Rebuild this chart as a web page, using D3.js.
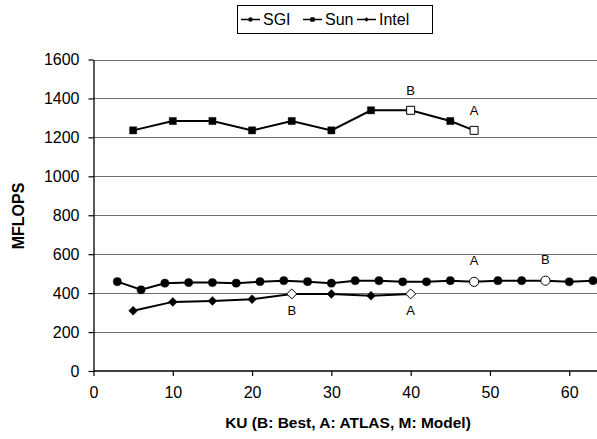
<!DOCTYPE html>
<html>
<head>
<meta charset="utf-8">
<script src="https://cdn.jsdelivr.net/npm/d3@7"></script>
<style>
  body { margin: 0; background: #fff; }
  svg { font-family: "Liberation Sans", Arial, sans-serif; }
</style>
</head>
<body>
<div id="chart"></div>
<script>
// KU values and MFLOPS for each machine
const sgiKU = [3, 6, 9, 12, 15, 18, 21, 24, 27, 30, 33, 36, 39, 42, 45, 48, 51, 54, 57, 60, 63];
const sgiMflops = [459, 417, 451, 454, 454, 451, 459, 464, 459, 451, 464, 464, 458, 458, 464, 458, 464, 464, 464, 458, 464];
const sunKU = [5, 10, 15, 20, 25, 30, 35, 40, 45, 48];
const sunMflops = [1236, 1284, 1284, 1236, 1284, 1236, 1339, 1339, 1284, 1236];
const intelKU = [5, 10, 15, 20, 25, 30, 35, 40];
const intelMflops = [309, 355, 360, 369, 396, 396, 387, 396];

// special points (B: Best, A: ATLAS) - drawn hollow with a letter
const sgiTags = [{ ku: 48, tag: 'A' }, { ku: 57, tag: 'B' }];
const sunTags = [{ ku: 40, tag: 'B' }, { ku: 48, tag: 'A' }];
const intelTags = [{ ku: 25, tag: 'B' }, { ku: 40, tag: 'A' }];

const yTicks = [0, 200, 400, 600, 800, 1000, 1200, 1400, 1600];
const xTicks = [0, 10, 20, 30, 40, 50, 60];

const width = 597;
const height = 439;

const svg = d3.select('#chart').append('svg')
    .attr('width', width)
    .attr('height', height);

const x = d3.scaleLinear().domain([0, 63.5]).range([93.5, 597]);
const y = d3.scaleLinear().domain([0, 1600]).range([371, 59.5]);

// gridlines
svg.append('g')
    .selectAll('line')
    .data(yTicks.filter(d => d > 0))
    .enter().append('line')
    .attr('x1', x(0)).attr('x2', width)
    .attr('y1', d => Math.round(y(d)) + 0.5).attr('y2', d => Math.round(y(d)) + 0.5)
    .style('stroke', '#6e6e6e')
    .style('stroke-width', 1.2);

// axes
const yAxis = svg.append('g')
    .attr('transform', `translate(${x(0)},0)`)
    .call(d3.axisLeft(y).tickValues(yTicks).tickFormat(d3.format('d'))
        .tickSize(5).tickPadding(9).tickSizeOuter(0));
const xAxis = svg.append('g')
    .attr('transform', `translate(0,${y(0)})`)
    .call(d3.axisBottom(x).tickValues(xTicks).tickSize(5).tickPadding(11).tickSizeOuter(0));

[yAxis, xAxis].forEach(a => {
    a.select('.domain').style('stroke', '#000').style('stroke-width', 1.3);
    a.selectAll('.tick line').style('stroke', '#000').style('stroke-width', 1.2);
    a.selectAll('.tick text')
        .style('font-size', '16px')
        .style('fill', '#000')
        .style('font-family', '"Liberation Sans", Arial, sans-serif');
});
// x axis line runs to the right edge
xAxis.select('.domain').attr('d', `M${x(0)},0H${width}`);

// axis titles
svg.append('text')
    .attr('transform', `translate(24,216) rotate(-90)`)
    .attr('text-anchor', 'middle')
    .style('font-size', '16px')
    .style('font-weight', 'bold')
    .text('MFLOPS');

svg.append('text')
    .attr('x', 348).attr('y', 428)
    .attr('text-anchor', 'middle')
    .style('font-size', '15.5px')
    .style('font-weight', 'bold')
    .text('KU (B: Best, A: ATLAS, M: Model)');

const line = d3.line().x(d => x(d.ku)).y(d => y(d.v));

// marker path for a shape; r is the half-width
function marker(shape, r) {
    if (shape === 'circle') return d3.symbol().type(d3.symbolCircle).size(Math.PI * r * r)();
    if (shape === 'square') return `M${-r},${-r}H${r}V${r}H${-r}Z`;
    return `M0,${-r}L${r},0L0,${r}L${-r},0Z`;
}

function drawSeries(kus, vals, tags, shape, labelDy) {
    const data = kus.map((k, i) => ({ ku: k, v: vals[i] }));
    svg.append('path')
        .datum(data)
        .attr('d', line)
        .style('fill', 'none')
        .style('stroke', '#000')
        .style('stroke-width', 2);

    const tagged = new Map(tags.map(t => [t.ku, t.tag]));
    const rFull = { circle: 4.1, square: 3.6, diamond: 4.5 }[shape];
    const rOpen = { circle: 4.6, square: 4, diamond: 5 }[shape];
    svg.append('g')
        .selectAll('path')
        .data(data)
        .enter().append('path')
        .attr('transform', d => `translate(${x(d.ku)},${y(d.v)})`)
        .attr('d', d => marker(shape, tagged.has(d.ku) ? rOpen : rFull))
        .style('fill', d => tagged.has(d.ku) ? '#fff' : '#000')
        .style('stroke', '#000')
        .style('stroke-width', d => tagged.has(d.ku) ? 1 : 0.4);

    svg.append('g')
        .selectAll('text')
        .data(data.filter(d => tagged.has(d.ku)))
        .enter().append('text')
        .attr('x', d => x(d.ku))
        .attr('y', d => y(d.v) + labelDy)
        .attr('text-anchor', 'middle')
        .attr('dominant-baseline', 'central')
        .style('font-size', '13px')
        .text(d => tagged.get(d.ku));
}

drawSeries(sgiKU, sgiMflops, sgiTags, 'circle', -21);
drawSeries(sunKU, sunMflops, sunTags, 'square', -20);
drawSeries(intelKU, intelMflops, intelTags, 'diamond', 17);

// legend
const legendItems = [
    { name: 'SGI', shape: 'circle' },
    { name: 'Sun', shape: 'square' },
    { name: 'Intel', shape: 'diamond' }
];
const legend = svg.append('g');
legend.append('rect')
    .attr('x', 237.5).attr('y', 5.5)
    .attr('width', 195).attr('height', 28)
    .style('fill', '#fff')
    .style('stroke', '#000')
    .style('stroke-width', 1);

const legendX = [241, 303, 357];
legendItems.forEach((d, i) => {
    const g = legend.append('g').attr('transform', `translate(${legendX[i]},19.5)`);
    g.append('line')
        .attr('x1', 0).attr('x2', 19)
        .style('stroke', '#000').style('stroke-width', 1.5);
    g.append('path')
        .attr('transform', 'translate(9.5,0)')
        .attr('d', marker(d.shape, 2.2))
        .style('fill', '#000');
    g.append('text')
        .attr('x', 22).attr('y', 0)
        .attr('dominant-baseline', 'central')
        .style('font-size', '16px')
        .text(d.name);
});
</script>
</body>
</html>
